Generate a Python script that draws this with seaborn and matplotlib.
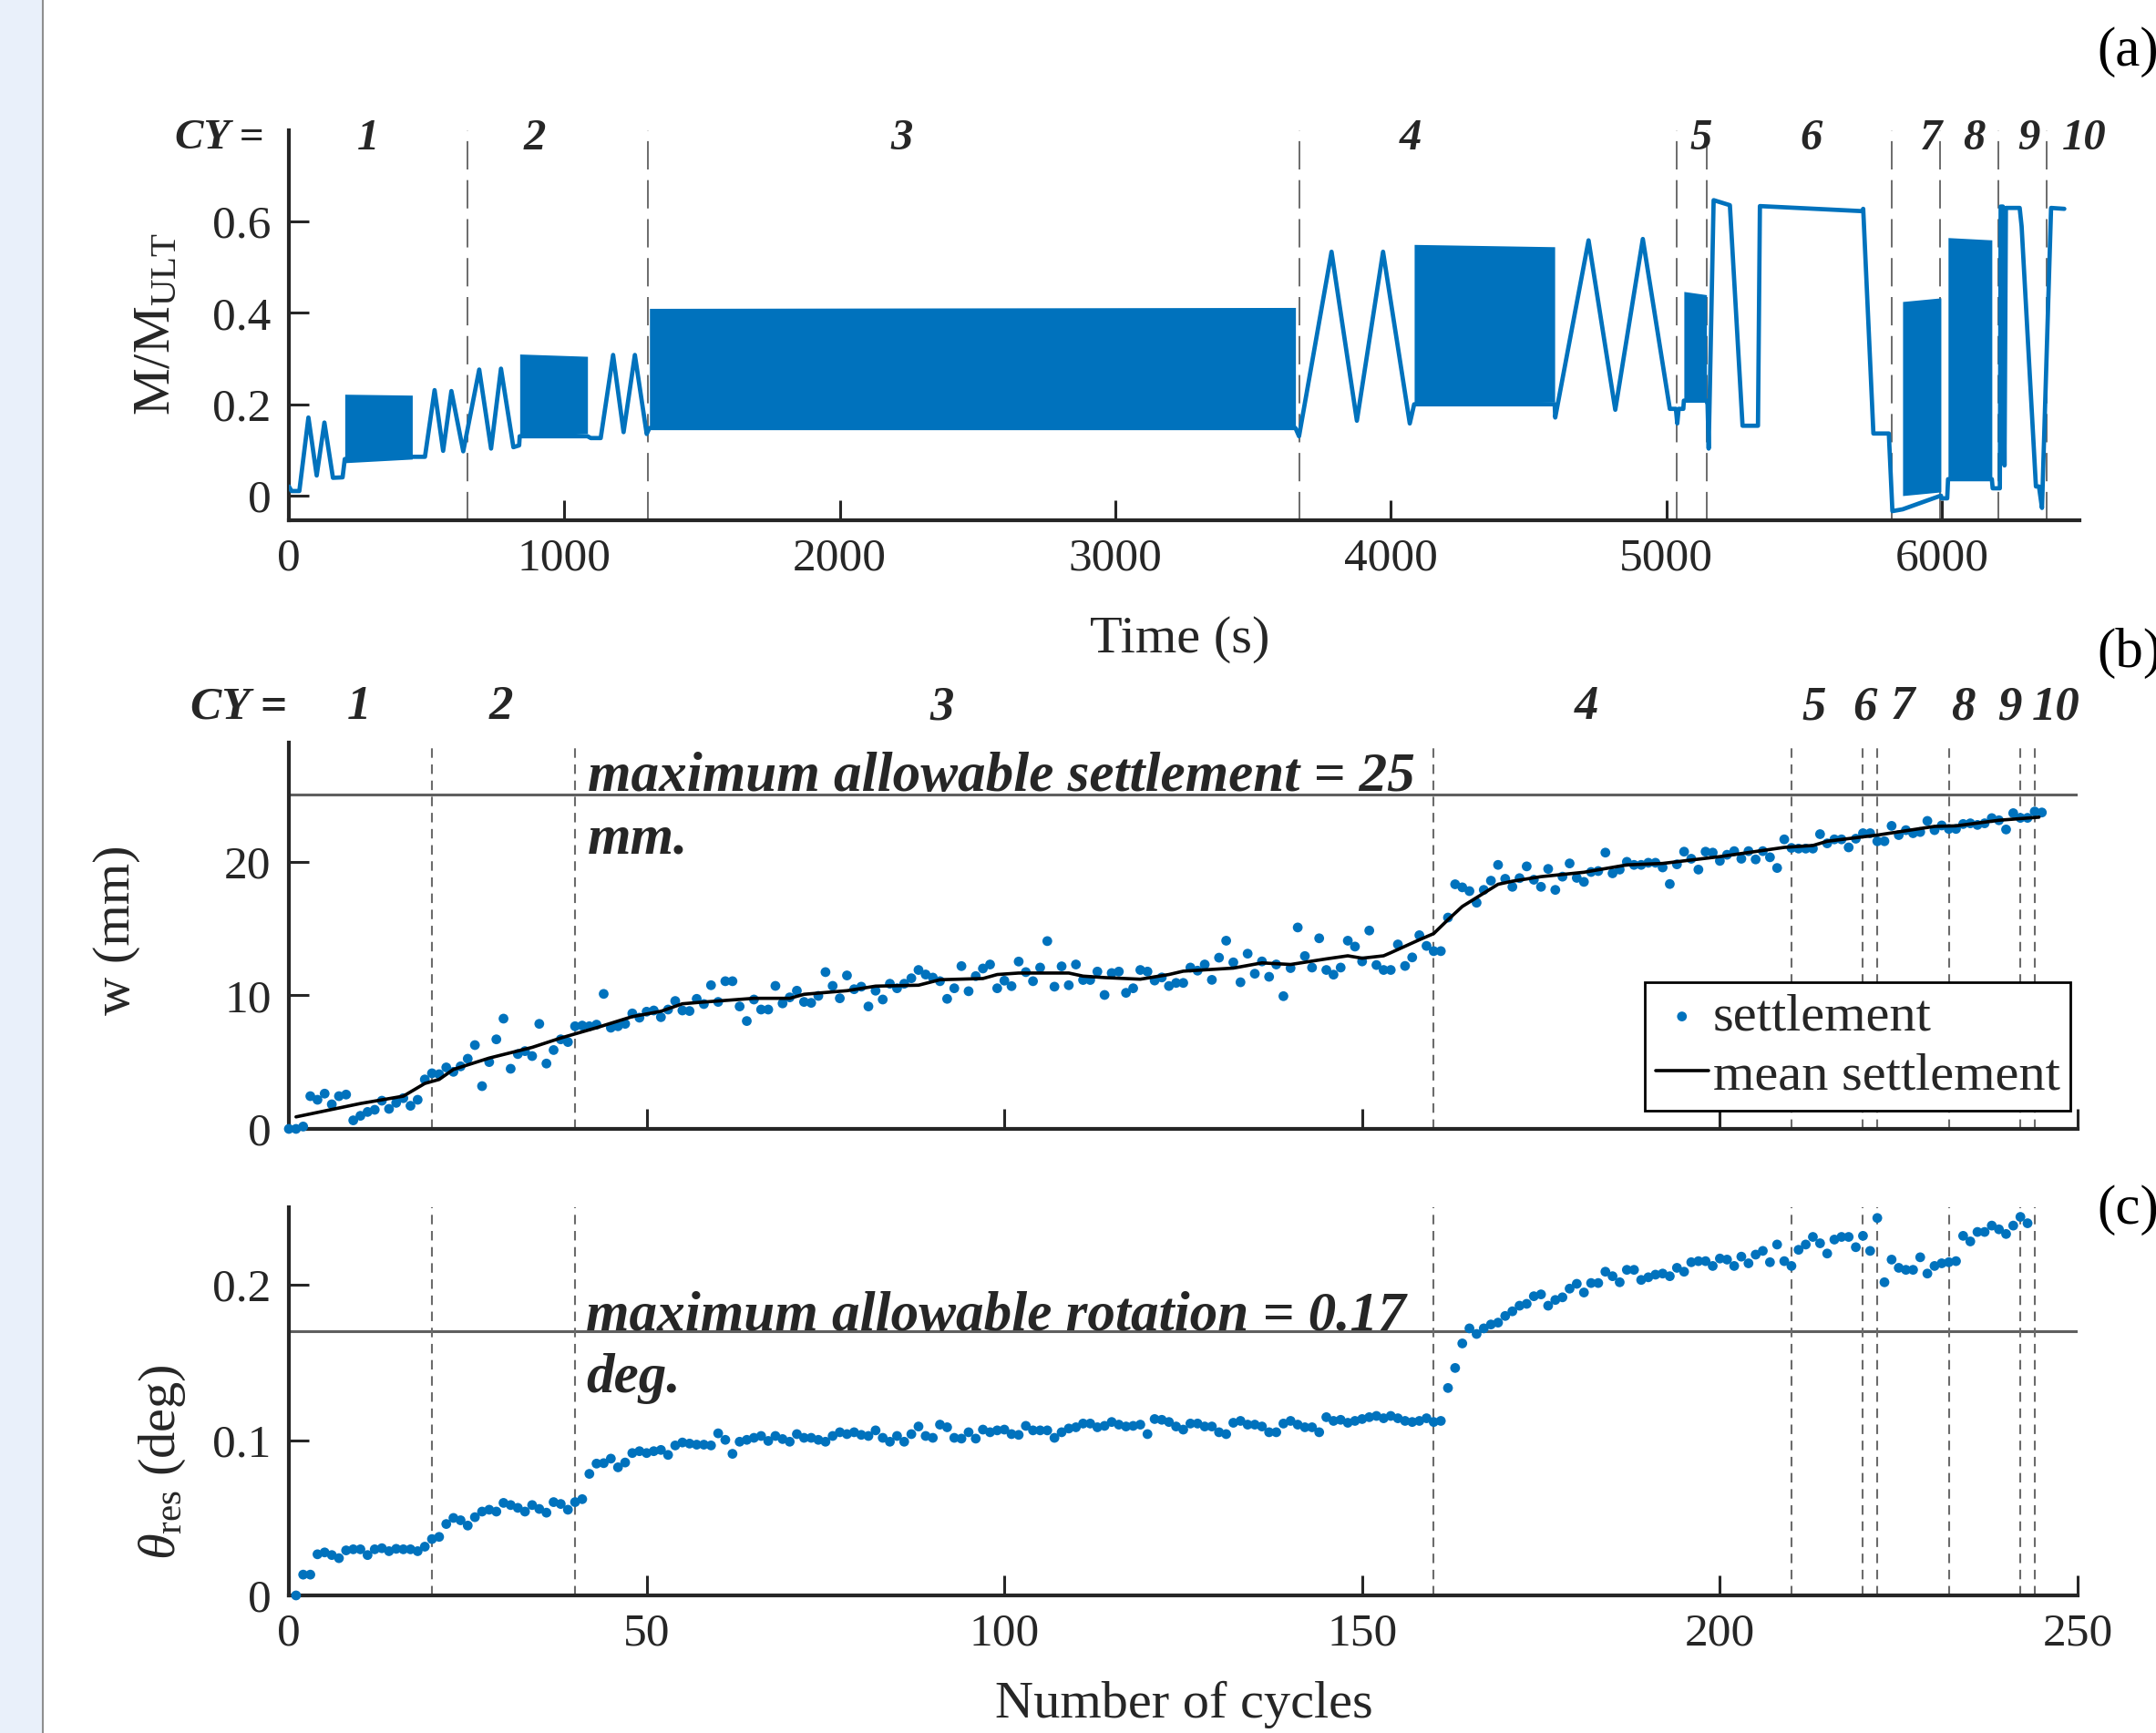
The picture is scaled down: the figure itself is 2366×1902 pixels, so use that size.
import numpy as np
import pandas as pd
import matplotlib
matplotlib.use("Agg")
import matplotlib.pyplot as plt
from matplotlib.patches import Rectangle
from matplotlib.lines import Line2D
import seaborn as sns

# ---------------------------------------------------------------
# (a) moment ratio M/M_ULT against time
# slow load cycles are kept as polyline vertices
time_s = [0, 10, 38, 71, 101, 129, 160, 195, 203, 448, 452, 494, 529, 560, 590, 633,
          691, 734, 770, 815, 836, 838, 1084, 1096, 1132, 1177, 1215, 1256, 1299, 1309,
          3654, 3667, 3785, 3877, 3972, 4069, 4085, 4595, 4597, 4718, 4815, 4915, 5013,
          5035, 5040, 5045, 5062, 5064, 5146, 5150, 5154, 5172, 5231, 5277, 5333, 5340,
          5710, 5715, 5752, 5808, 5821, 5858, 5997, 6000, 6020, 6023, 6182, 6185, 6211,
          6214, 6222, 6228, 6233, 6283, 6290, 6342, 6353, 6364, 6397, 6445]
m_ratio = [0.02, 0.01, 0.01, 0.171, 0.044, 0.16, 0.039, 0.04, 0.08, 0.085, 0.085, 0.085,
           0.231, 0.098, 0.229, 0.097, 0.276, 0.103, 0.278, 0.106, 0.11, 0.13, 0.13,
           0.126, 0.126, 0.308, 0.139, 0.308, 0.135, 0.148, 0.148, 0.13, 0.534, 0.164,
           0.534, 0.158, 0.2, 0.2, 0.171, 0.559, 0.188, 0.562, 0.19, 0.19, 0.158, 0.19,
           0.19, 0.208, 0.208, 0.2, 0.103, 0.647, 0.636, 0.153, 0.153, 0.634, 0.623,
           0.628, 0.136, 0.136, -0.034, -0.03, 0.0, -0.006, -0.006, 0.036, 0.036, 0.016,
           0.016, 0.633, 0.633, 0.066, 0.63, 0.63, 0.59, 0.02, 0.02, -0.027, 0.63, 0.628]

# fast cyclic blocks: start / end time and the envelope of the cycling
block_start = [203, 838, 1309, 4085, 5064, 5858, 6023]
block_end = [448, 1084, 3654, 4595, 5146, 5997, 6182]
block_low_start = [0.072, 0.128, 0.146, 0.20, 0.208, 0.0, 0.036]
block_low_end = [0.080, 0.136, 0.150, 0.205, 0.208, 0.008, 0.040]
block_high_start = [0.222, 0.31, 0.41, 0.55, 0.447, 0.425, 0.565]
block_high_end = [0.220, 0.305, 0.412, 0.545, 0.440, 0.433, 0.560]

# cycle-group boundaries and labels
bound_time = [648, 1304, 3668, 5039, 5147, 5820, 5995, 6207, 6381]
cy_labels = ["1", "2", "3", "4", "5", "6", "7", "8", "9", "10"]
cy_time_pos = [288, 894, 2225, 4072, 5125, 5527, 5962, 6117, 6315, 6518]

# ---------------------------------------------------------------
# (b) settlement w (mm) per cycle
settle_cycle = np.arange(0, 246)  # one point per load cycle
settle_w = [
    0, 0, 0.18, 2.45, 2.18, 2.64, 1.84, 2.45, 2.57, 0.64,
    0.98, 1.27, 1.43, 2.11, 1.5, 1.95, 2.3, 1.73, 2.18, 3.7,
    4.16, 4.09, 4.6, 4.27, 4.68, 5.25, 6.27, 3.2, 5.0, 6.7,
    8.25, 4.5, 5.6, 5.82, 5.45, 7.86, 4.89, 5.9, 6.7, 6.5,
    7.68, 7.73, 7.68, 7.8, 10.1, 7.57, 7.68, 7.86, 8.64, 8.32,
    8.77, 8.86, 8.36, 8.93, 9.57, 8.86, 8.82, 9.73, 9.34, 10.75,
    9.5, 11.05, 11.05, 9.16, 8.07, 9.68, 8.93, 8.93, 10.7, 9.39,
    9.84, 10.34, 9.5, 9.43, 9.95, 11.73, 10.7, 9.77, 11.48, 10.45,
    10.64, 9.16, 10.34, 9.68, 10.86, 10.52, 10.86, 11.27, 11.89, 11.55,
    11.32, 11.05, 9.73, 10.52, 12.18, 10.3, 11.43, 12.0, 12.3, 10.52,
    11.09, 10.68, 12.52, 11.73, 11.05, 12.07, 14.05, 10.64, 12.16, 10.75,
    12.3, 11.14, 11.14, 11.77, 10.02, 11.66, 11.77, 10.18, 10.52, 11.89,
    11.77, 11.1, 11.33, 10.69, 10.92, 10.92, 12.07, 11.84, 12.3, 11.15,
    12.81, 14.08, 12.46, 10.97, 13.11, 11.61, 12.53, 11.38, 12.3, 9.93,
    12.03, 15.07, 12.93, 12.07, 14.26, 11.89, 11.54, 12.07, 14.08, 13.64,
    12.53, 14.84, 12.26, 11.89, 11.89, 13.8, 12.19, 12.83, 14.49, 13.69,
    13.3, 13.3, 15.81, 18.3, 18.07, 17.79, 16.92, 17.88, 18.57, 19.75,
    18.71, 18.11, 18.76, 19.64, 18.64, 18.11, 19.45, 17.88, 18.87, 19.86,
    18.78, 18.48, 19.22, 19.29, 20.67, 19.12, 19.4, 19.98, 19.75, 19.75,
    19.91, 19.91, 19.56, 18.32, 19.79, 20.74, 20.21, 19.4, 20.74, 20.67,
    20.05, 20.51, 20.78, 20.21, 20.78, 20.16, 20.78, 20.32, 19.52, 21.66,
    21.02, 20.97, 20.97, 20.97, 22.05, 21.36, 21.66, 21.66, 21.06, 21.71,
    22.12, 22.12, 21.52, 21.52, 22.67, 21.98, 22.35, 22.12, 22.21, 23.04,
    22.35, 22.7, 22.44, 22.44, 22.81, 22.86, 22.74, 22.86, 23.25, 23.09,
    22.4, 23.62, 23.27, 23.27, 23.74, 23.67]

mean_cycle = [1, 10, 16, 19, 21, 23, 28, 34, 38, 43, 48, 52, 55, 57, 65, 70, 72, 78, 82,
              88, 91, 97, 99, 102, 109, 111, 114, 119, 123, 125, 132, 136, 140, 145, 148,
              150, 153, 154, 158, 160, 162, 164, 169, 171, 175, 181, 187, 192, 200, 209,
              213, 215, 222, 230, 233, 239, 244.6]
mean_w = [0.9, 1.9, 2.45, 3.4, 3.7, 4.45, 5.3, 6.1, 6.8, 7.57, 8.4, 8.8, 9.36, 9.45, 9.77,
          9.77, 10.07, 10.34, 10.68, 10.75, 11.16, 11.25, 11.55, 11.66, 11.66, 11.43,
          11.32, 11.2, 11.55, 11.8, 12.03, 12.42, 12.3, 12.72, 12.95, 12.77, 12.95, 13.18,
          14.15, 14.61, 15.65, 16.64, 18.3, 18.53, 18.87, 19.2, 19.75, 19.86, 20.37,
          21.06, 21.2, 21.52, 21.98, 22.63, 22.67, 23.09, 23.32]

bound_cycle = [20, 40, 160, 210, 220, 222, 232, 242, 244]
cy_cycle_pos = [9.8, 29.6, 91.2, 181.4, 213.1, 220.3, 225.6, 234.0, 240.5, 246.9]

# ---------------------------------------------------------------
# (c) residual rotation theta_res (deg) per cycle
rot_cycle = np.arange(1, 244)  # one point per load cycle
rot_deg = [
    0.0, 0.0134, 0.0134, 0.0265, 0.0277, 0.026, 0.024, 0.029, 0.0297, 0.0297,
    0.026, 0.0297, 0.0304, 0.0285, 0.030, 0.0297, 0.0297, 0.0285, 0.0314, 0.0363,
    0.0377, 0.046, 0.0499, 0.0484, 0.045, 0.0504, 0.054, 0.0552, 0.054, 0.0596,
    0.0582, 0.0564, 0.054, 0.0582, 0.0557, 0.0533, 0.0601, 0.0589, 0.0552, 0.0601,
    0.062, 0.0783, 0.0849, 0.0852, 0.0881, 0.0825, 0.0856, 0.0917, 0.0929, 0.0917,
    0.0929, 0.0937, 0.0905, 0.0966, 0.0985, 0.0978, 0.0971, 0.0971, 0.0966, 0.1044,
    0.1002, 0.0912, 0.099, 0.1002, 0.1015, 0.1027, 0.0995, 0.1027, 0.1007, 0.099,
    0.1039, 0.1015, 0.1015, 0.1002, 0.099, 0.1027, 0.1051, 0.1039, 0.1051, 0.1034,
    0.1027, 0.1063, 0.1015, 0.099, 0.1027, 0.099, 0.1039, 0.1088, 0.1027, 0.1015,
    0.11, 0.1083, 0.1015, 0.101, 0.1051, 0.101, 0.1068, 0.1051, 0.1063, 0.1068,
    0.1039, 0.1034, 0.1092, 0.1063, 0.1063,
    0.1063, 0.1015, 0.1051, 0.1075, 0.1083, 0.1107, 0.1107, 0.1083, 0.1092, 0.1117,
    0.11, 0.1088, 0.1092, 0.11, 0.1039, 0.1136, 0.1131, 0.1117, 0.1088, 0.1068,
    0.1107, 0.1107, 0.1088, 0.1088, 0.1051, 0.1039, 0.1112, 0.1124, 0.11, 0.11,
    0.1088, 0.1051, 0.1051, 0.1107, 0.1124, 0.11, 0.1083, 0.1083, 0.1051, 0.1148,
    0.1124, 0.1131, 0.1112, 0.1124, 0.1136, 0.1148, 0.1156, 0.1141, 0.1156, 0.1141,
    0.1124, 0.1117, 0.1124, 0.1141, 0.1117, 0.1124,
    0.1336, 0.1465, 0.1623, 0.172, 0.1684, 0.172, 0.1745, 0.1757, 0.180, 0.183,
    0.1866, 0.1878, 0.1927, 0.1939, 0.1866, 0.1903, 0.192, 0.1976, 0.2007, 0.1951,
    0.2012, 0.2012, 0.2085, 0.2056, 0.2017, 0.2097, 0.2097, 0.2032, 0.2049, 0.2066,
    0.2073, 0.2056, 0.211, 0.2085, 0.2146, 0.2153, 0.2153, 0.2122, 0.217, 0.2163,
    0.2122, 0.2182, 0.2139, 0.2195, 0.2219, 0.2146, 0.226, 0.2153, 0.2122, 0.2226,
    0.226, 0.2309, 0.2268, 0.2202, 0.2292, 0.2309, 0.2309, 0.2243, 0.2316, 0.2219,
    0.2431, 0.2017, 0.2163, 0.211, 0.2097, 0.2097, 0.2178, 0.2073, 0.2122, 0.2139,
    0.2146, 0.2153, 0.2316, 0.228, 0.2341, 0.2341, 0.2382, 0.2358, 0.2328, 0.2382,
    0.2438, 0.2397]

w_limit = 25
rot_limit = 0.17

df_a = pd.DataFrame({"time": time_s, "m": m_ratio})
df_b = pd.DataFrame({"cycle": settle_cycle, "w": settle_w})
df_mean = pd.DataFrame({"cycle": mean_cycle, "w": mean_w})
df_c = pd.DataFrame({"cycle": rot_cycle, "rot": rot_deg})

# ---------------------------------------------------------------
sns.set_style("ticks")
plt.rcParams["font.family"] = ["Liberation Serif", "DejaVu Serif"]
plt.rcParams["mathtext.fontset"] = "custom"
plt.rcParams["mathtext.rm"] = "Liberation Serif"
plt.rcParams["mathtext.it"] = "Liberation Serif:italic"

BLUE = "#0072BD"
DARK = "#262626"
GREY = "#6b6b6b"
BOLDIT = dict(family=["Liberation Serif", "DejaVu Serif"], weight="bold", style="italic")

W, H = 2366, 1902
fig = plt.figure(figsize=(W / 100, H / 100), dpi=100)


def box(x0, y0, x1, y1):
    return [x0 / W, 1 - y1 / H, (x1 - x0) / W, (y1 - y0) / H]


# light strip at the left edge
fig.patches.append(Rectangle((0, 0), 46 / W, 1, transform=fig.transFigure,
                             facecolor="#E9F0FA", edgecolor="none", zorder=0))
fig.lines.append(Line2D([47 / W, 47 / W], [0, 1], transform=fig.transFigure,
                        color="#8f8f8f", lw=1.5))

ax_a = fig.add_axes(box(317, 143, 2282, 571))
ax_b = fig.add_axes(box(317, 815, 2280, 1239))
ax_c = fig.add_axes(box(317, 1325, 2280, 1751))


def style(ax):
    for s in ["top", "right"]:
        ax.spines[s].set_visible(False)
    for s in ["left", "bottom"]:
        ax.spines[s].set_linewidth(3)
        ax.spines[s].set_color(DARK)
    ax.tick_params(direction="in", length=16, width=2.2, colors=DARK,
                   labelsize=37, pad=14)
    ax.set_xlabel("")
    ax.set_ylabel("")


# ---- (a)
for t0, t1, l0, l1, h0, h1 in zip(block_start, block_end, block_low_start,
                                  block_low_end, block_high_start, block_high_end):
    ax_a.fill_between([t0, t1], [l0, l1], [h0, h1], color=BLUE, lw=0, zorder=2)
sns.lineplot(data=df_a, x="time", y="m", ax=ax_a, color=BLUE, lw=3.4,
             estimator=None, sort=False, zorder=3)
for t in bound_time:
    ax_a.axvline(t, color=GREY, lw=1.4, ls=(0, (16, 6)), zorder=1)
ax_a.set_xlim(0, 6500)
ax_a.set_ylim(-0.054, 0.8)
ax_a.set_xticks(range(0, 7000, 1000))
ax_a.set_xticklabels([str(v) for v in range(0, 7000, 1000)])
ax_a.set_yticks([0, 0.2, 0.4, 0.6])
ax_a.set_yticklabels(["0", "0.2", "0.4", "0.6"])
style(ax_a)
ax_a.text(-253, 0.783, "CY =", ha="center", va="center", fontsize=34,
          clip_on=False, **BOLDIT)
for lab, t in zip(cy_labels, cy_time_pos):
    ax_a.text(t, 0.783, lab, ha="center", va="center", fontsize=35,
              clip_on=False, **BOLDIT)

# ---- (b)
ax_b.axhline(w_limit, color="#5f5f5f", lw=2.2, zorder=1)
for c in bound_cycle:
    ax_b.axvline(c, color=GREY, lw=1.5, ls=(0, (5, 3.5)), zorder=1)
sns.scatterplot(data=df_b, x="cycle", y="w", ax=ax_b, color=BLUE, s=60,
                edgecolor="none", label="settlement", zorder=3, clip_on=False)
sns.lineplot(data=df_mean, x="cycle", y="w", ax=ax_b, color="black", lw=2.6,
             estimator=None, label="mean settlement", zorder=4)
ax_b.set_xlim(0, 250)
ax_b.set_ylim(0, 28.9)
ax_b.set_xticks(range(0, 300, 50))
ax_b.set_xticklabels([])
ax_b.set_yticks([0, 10, 20])
ax_b.set_yticklabels(["0", "10", "20"])
style(ax_b)
ax_b.text(41.8, 25.3, "maximum allowable settlement = 25", ha="left",
          va="baseline", fontsize=44, **BOLDIT)
ax_b.text(41.8, 20.6, "mm.", ha="left", va="baseline", fontsize=44, **BOLDIT)
ax_b.text(-7.0, 31.55, "CY =", ha="center", va="center", fontsize=37,
          clip_on=False, **BOLDIT)
for lab, c in zip(cy_labels, cy_cycle_pos):
    ax_b.text(c, 31.55, lab, ha="center", va="center", fontsize=38,
              clip_on=False, **BOLDIT)
leg = ax_b.legend(loc="lower right", bbox_to_anchor=(0.996, 0.047),
                  frameon=True, fancybox=False, edgecolor="black",
                  framealpha=1, fontsize=42, handlelength=1.0,
                  handletextpad=0.08, borderpad=0.2, labelspacing=0.2,
                  borderaxespad=0)
leg.get_frame().set_linewidth(2)

# ---- (c)
ax_c.axhline(rot_limit, color="#5f5f5f", lw=2.2, zorder=1)
for c in bound_cycle:
    ax_c.axvline(c, color=GREY, lw=1.5, ls=(0, (5, 3.5)), zorder=1)
sns.scatterplot(data=df_c, x="cycle", y="rot", ax=ax_c, color=BLUE, s=60,
                edgecolor="none", zorder=3, clip_on=False, legend=False)
ax_c.set_xlim(0, 250)
ax_c.set_ylim(0, 0.25)
ax_c.set_xticks(range(0, 300, 50))
ax_c.set_xticklabels([str(v) for v in range(0, 300, 50)])
ax_c.set_yticks([0, 0.1, 0.2])
ax_c.set_yticklabels(["0", "0.1", "0.2"])
style(ax_c)
ax_c.text(41.5, 0.1705, "maximum allowable rotation = 0.17", ha="left",
          va="baseline", fontsize=44, **BOLDIT)
ax_c.text(41.5, 0.1306, "deg.", ha="left", va="baseline", fontsize=44, **BOLDIT)

# ---- axis titles and panel tags
fig.text(172 / W, 1 - 355 / H, r"M/M$_{\mathrm{ULT}}$", rotation=90,
         ha="center", va="center", fontsize=42, color=DARK)
fig.text(128 / W, 1 - 1021 / H, "w (mm)", rotation=90, ha="center",
         va="center", fontsize=42, color=DARK)
fig.text(178 / W, 1 - 1605 / H, r"$\theta_{\mathrm{res}}$ (deg)", rotation=90,
         ha="center", va="center", fontsize=42, color=DARK)
fig.text(1295 / W, 1 - 702 / H, "Time (s)", ha="center", va="center",
         fontsize=42, color=DARK)
fig.text(1299 / W, 1 - 1871 / H, "Number of cycles", ha="center", va="center",
         fontsize=42, color=DARK)
for tag, yy in zip(["(a)", "(b)", "(c)"], [57, 717, 1328]):
    fig.text(2301 / W, 1 - yy / H, tag, ha="left", va="center", fontsize=44,
             color="black")

fig.savefig("out.png", dpi=100)
